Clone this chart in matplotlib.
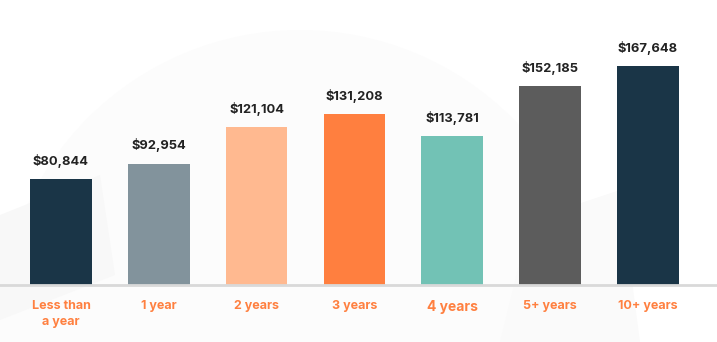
import matplotlib.pyplot as plt
from matplotlib.patches import Polygon, Circle

categories = ["Less than\na year", "1 year", "2 years", "3 years", "4 years", "5+ years", "10+ years"]
salaries = [80844, 92954, 121104, 131208, 113781, 152185, 167648]
bar_colors = ["#1a3547", "#82939c", "#ffb990", "#ff7f3f", "#72c2b5", "#5c5c5c", "#1a3547"]

plt.rcParams['font.family'] = ['Inter', 'DejaVu Sans']

fig = plt.figure(figsize=(7.17, 3.42), dpi=100)
fig.patch.set_facecolor("white")

# faint decorative shapes behind the chart
bg = fig.add_axes([0, 0, 1, 1], zorder=0)
bg.set_xlim(0, 717)
bg.set_ylim(342, 0)
bg.axis("off")
bg.add_patch(Circle((300, 330), 300, facecolor="#fcfcfc", edgecolor="none"))
bg.add_patch(Polygon([(0, 215), (100, 175), (115, 275), (0, 320)], closed=True,
                     facecolor="#f8f8f8", edgecolor="none"))
bg.add_patch(Polygon([(530, 220), (620, 190), (640, 342), (500, 342)], closed=True,
                     facecolor="#fafafa", edgecolor="none"))

ax = fig.add_axes([0, (342 - 285) / 342, 1, 285 / 342], zorder=1)
ax.patch.set_alpha(0)
x = list(range(len(categories)))
ax.bar(x, salaries, width=0.63, color=bar_colors, zorder=2)
ax.set_xlim(-0.6235, 6.706)
ax.set_ylim(0, 218200)

for xi, v in zip(x, salaries):
    ax.annotate(f"${v:,}", (xi, v), xytext=(0, 8), textcoords="offset points",
                ha="center", va="bottom", fontsize=9.3, fontweight="bold", color="#222222")

for s in ["top", "right", "left"]:
    ax.spines[s].set_visible(False)
ax.spines["bottom"].set_color("#d9d9d9")
ax.spines["bottom"].set_linewidth(2)
ax.set_yticks([])
ax.set_xticks(x)
ax.set_xticklabels(categories, fontsize=9, fontweight="bold", color="#ff8040", linespacing=1.45)
ax.tick_params(axis="x", length=0, pad=11)
ax.get_xticklabels()[4].set_fontsize(10)

fig.savefig("out.png", dpi=100)
